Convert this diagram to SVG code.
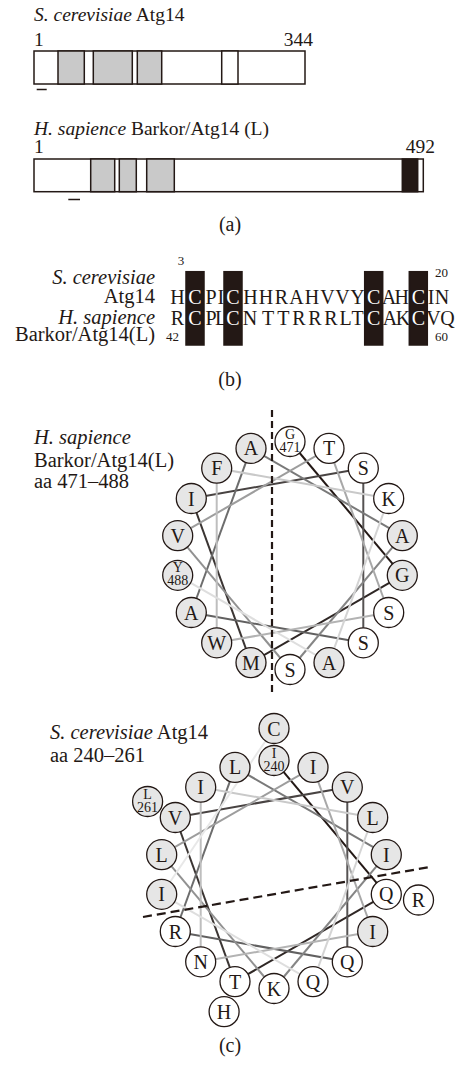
<svg xmlns="http://www.w3.org/2000/svg" width="458" height="1065" viewBox="0 0 458 1065">
<style>
text{font-family:"Liberation Serif","Times New Roman",serif;fill:#231815}
.it{font-style:italic}
.lab{font-size:19.5px}
.labb{font-size:20.5px}
.seq{font-size:20px;text-anchor:middle}
.wl{fill:#ffffff}
.num{font-size:13px}
.box{fill:#ffffff;stroke:#231815;stroke-width:1.5}
.dom{fill:#c9c9c9;stroke:#231815;stroke-width:1.5}
.blk{fill:#231815;stroke:#231815;stroke-width:1.5}
.tick{stroke:#231815;stroke-width:1.5}
.hp circle{fill:#e6e6e6;stroke:#231815;stroke-width:1.3}
.hw circle{fill:#ffffff;stroke:#231815;stroke-width:1.3}
.res{font-size:20px;text-anchor:middle}
.rn{font-size:14px;text-anchor:middle}
.conn line{stroke-width:2;fill:none}
.dash{stroke:#231815;stroke-width:2.2;fill:none}
.cap{font-size:20px;text-anchor:middle}
</style>

<!-- (a) -->
<g id="a-scer">
<text class="lab" x="34" y="21"><tspan class="it">S. cerevisiae</tspan> Atg14</text>
<text class="lab" x="34" y="46">1</text>
<text class="lab" x="313" y="46" text-anchor="end">344</text>
<rect class="box" x="34" y="51" width="271" height="33"/>
<rect class="dom" x="58" y="51" width="26.3" height="33"/>
<rect class="dom" x="93.3" y="51" width="39" height="33"/>
<rect class="dom" x="137.3" y="51" width="24.4" height="33"/>
<rect class="box" x="221.7" y="51" width="16.3" height="33"/>
<line class="tick" x1="36.7" y1="89.5" x2="46.7" y2="89.5"/>
</g>
<g id="a-hsap">
<text class="lab" x="34" y="135"><tspan class="it">H. sapience</tspan> Barkor/Atg14 (L)</text>
<text class="lab" x="34" y="153">1</text>
<text class="lab" x="435" y="153" text-anchor="end">492</text>
<rect class="box" x="34" y="159" width="389.3" height="32.7"/>
<rect class="dom" x="90.7" y="159" width="24" height="32.7"/>
<rect class="dom" x="119.3" y="159" width="17" height="32.7"/>
<rect class="dom" x="146.7" y="159" width="27.6" height="32.7"/>
<rect class="blk" x="402.3" y="159" width="15.4" height="32.7"/>
<line class="tick" x1="68.3" y1="199.5" x2="80" y2="199.5"/>
</g>
<text class="cap" x="230" y="231">(a)</text>

<!-- (b) -->
<g id="b-align">
<rect class="blk" x="186" y="271.7" width="18" height="73.3"/>
<rect class="blk" x="224" y="271.7" width="18" height="73.3"/>
<rect class="blk" x="364.7" y="271.7" width="18" height="73.3"/>
<rect class="blk" x="409.3" y="271.7" width="18" height="73.3"/>
<text class="num" x="181" y="265" text-anchor="middle">3</text>
<text class="num" x="448" y="277" text-anchor="end">20</text>
<text class="labb it" x="155" y="284" text-anchor="end">S. cerevisiae</text>
<text class="labb" x="155" y="303" text-anchor="end">Atg14</text>
<text class="labb it" x="155" y="324" text-anchor="end">H. sapience</text>
<text class="labb" x="155" y="341" text-anchor="end">Barkor/Atg14(L)</text>
<text class="num" x="166" y="341">42</text>
<text class="num" x="448" y="341" text-anchor="end">60</text>
<g id="seq-scer">
<text class="seq" x="177.5" y="304">H</text>
<text class="seq wl" x="195" y="304">C</text>
<text class="seq" x="211" y="304">P</text>
<text class="seq" x="220.8" y="304">I</text>
<text class="seq wl" x="233" y="304">C</text>
<text class="seq" x="250.5" y="304">H</text>
<text class="seq" x="266" y="304">H</text>
<text class="seq" x="281.3" y="304">R</text>
<text class="seq" x="296.5" y="304">A</text>
<text class="seq" x="312" y="304">H</text>
<text class="seq" x="327.5" y="304">V</text>
<text class="seq" x="342.5" y="304">V</text>
<text class="seq" x="357.5" y="304">Y</text>
<text class="seq wl" x="373.7" y="304">C</text>
<text class="seq" x="389" y="304">A</text>
<text class="seq" x="401.7" y="304">H</text>
<text class="seq wl" x="418.3" y="304">C</text>
<text class="seq" x="431" y="304">I</text>
<text class="seq" x="442" y="304">N</text>
</g>
<g id="seq-hsap">
<text class="seq" x="177.5" y="325">R</text>
<text class="seq wl" x="195" y="325">C</text>
<text class="seq" x="211" y="325">P</text>
<text class="seq" x="221" y="325">L</text>
<text class="seq wl" x="233" y="325">C</text>
<text class="seq" x="250" y="325">N</text>
<text class="seq" x="268" y="325">T</text>
<text class="seq" x="283.3" y="325">T</text>
<text class="seq" x="299" y="325">R</text>
<text class="seq" x="315" y="325">R</text>
<text class="seq" x="331" y="325">R</text>
<text class="seq" x="345.5" y="325">L</text>
<text class="seq" x="357.5" y="325">T</text>
<text class="seq wl" x="373.7" y="325">C</text>
<text class="seq" x="390" y="325">A</text>
<text class="seq" x="403" y="325">K</text>
<text class="seq wl" x="418.3" y="325">C</text>
<text class="seq" x="433.5" y="325">V</text>
<text class="seq" x="447.5" y="325">Q</text>
</g>
</g>
<text class="cap" x="230" y="386">(b)</text>

<!-- (c) helix 1 -->
<text class="labb it" x="34" y="444">H. sapience</text>
<text class="labb" x="34" y="467">Barkor/Atg14(L)</text>
<text class="labb" x="34" y="488">aa 471–488</text>

<g id="connectors-h1" class="conn">
<line x1="290" y1="441.5" x2="402.3" y2="575.3" stroke="#231815"/>
<line x1="402.3" y1="575.3" x2="251" y2="662.6" stroke="#2f2725"/>
<line x1="251" y1="662.6" x2="191.3" y2="498.5" stroke="#3b3533"/>
<line x1="191.3" y1="498.5" x2="363.3" y2="468.2" stroke="#484342"/>
<line x1="363.3" y1="468.2" x2="363.3" y2="642.8" stroke="#555252"/>
<line x1="363.3" y1="642.8" x2="191.3" y2="612.5" stroke="#616060"/>
<line x1="191.3" y1="612.5" x2="251" y2="448.4" stroke="#6d6d6d"/>
<line x1="251" y1="448.4" x2="402.3" y2="535.7" stroke="#797979"/>
<line x1="402.3" y1="535.7" x2="290" y2="669.5" stroke="#858585"/>
<line x1="290" y1="669.5" x2="177.7" y2="535.7" stroke="#919191"/>
<line x1="177.7" y1="535.7" x2="329" y2="448.4" stroke="#9d9d9d"/>
<line x1="329" y1="448.4" x2="388.7" y2="612.5" stroke="#a8a8a8"/>
<line x1="388.7" y1="612.5" x2="216.7" y2="642.8" stroke="#b3b3b3"/>
<line x1="216.7" y1="642.8" x2="216.7" y2="468.2" stroke="#bebebe"/>
<line x1="216.7" y1="468.2" x2="388.7" y2="498.5" stroke="#c9c9c9"/>
<line x1="388.7" y1="498.5" x2="329" y2="662.6" stroke="#d4d4d4"/>
<line x1="329" y1="662.6" x2="177.7" y2="575.3" stroke="#dedede"/>
</g>
<line class="dash" x1="272" y1="410" x2="272" y2="695" stroke-dasharray="7 4"/>

<g id="h1-G471" class="hw"><circle cx="290" cy="441.5" r="15"/><text class="rn" x="290" y="438.5">G</text><text class="rn" x="290" y="451.5">471</text></g>
<g id="h1-T" class="hw"><circle cx="329" cy="448.4" r="15"/><text class="res" x="329" y="455.4">T</text></g>
<g id="h1-S40" class="hw"><circle cx="363.3" cy="468.2" r="15"/><text class="res" x="363.3" y="475.2">S</text></g>
<g id="h1-K" class="hw"><circle cx="388.7" cy="498.5" r="15"/><text class="res" x="388.7" y="505.5">K</text></g>
<g id="h1-A80" class="hp"><circle cx="402.3" cy="535.7" r="15"/><text class="res" x="402.3" y="542.7">A</text></g>
<g id="h1-G100" class="hp"><circle cx="402.3" cy="575.3" r="15"/><text class="res" x="402.3" y="582.3">G</text></g>
<g id="h1-S120" class="hw"><circle cx="388.7" cy="612.5" r="15"/><text class="res" x="388.7" y="619.5">S</text></g>
<g id="h1-S140" class="hw"><circle cx="363.3" cy="642.8" r="15"/><text class="res" x="363.3" y="649.8">S</text></g>
<g id="h1-A160" class="hp"><circle cx="329" cy="662.6" r="15"/><text class="res" x="329" y="669.6">A</text></g>
<g id="h1-S180" class="hw"><circle cx="290" cy="669.5" r="15"/><text class="res" x="290" y="676.5">S</text></g>
<g id="h1-M" class="hp"><circle cx="251" cy="662.6" r="15"/><text class="res" x="251" y="669.6">M</text></g>
<g id="h1-W" class="hp"><circle cx="216.7" cy="642.8" r="15"/><text class="res" x="216.7" y="649.8">W</text></g>
<g id="h1-A240" class="hp"><circle cx="191.3" cy="612.5" r="15"/><text class="res" x="191.3" y="619.5">A</text></g>
<g id="h1-Y488" class="hp"><circle cx="177.7" cy="575.3" r="15"/><text class="rn" x="177.7" y="572.3">Y</text><text class="rn" x="177.7" y="585.3">488</text></g>
<g id="h1-V" class="hp"><circle cx="177.7" cy="535.7" r="15"/><text class="res" x="177.7" y="542.7">V</text></g>
<g id="h1-I" class="hp"><circle cx="191.3" cy="498.5" r="15"/><text class="res" x="191.3" y="505.5">I</text></g>
<g id="h1-F" class="hp"><circle cx="216.7" cy="468.2" r="15"/><text class="res" x="216.7" y="475.2">F</text></g>
<g id="h1-A340" class="hp"><circle cx="251" cy="448.4" r="15"/><text class="res" x="251" y="455.4">A</text></g>

<!-- (c) helix 2 -->
<text class="labb" x="50" y="739"><tspan class="it">S. cerevisiae</tspan> Atg14</text>
<text class="labb" x="50" y="762">aa 240–261</text>

<g id="connectors-h2" class="conn">
<line x1="274" y1="760.5" x2="386.3" y2="894.3" stroke="#231815"/>
<line x1="386.3" y1="894.3" x2="235" y2="981.6" stroke="#2f2725"/>
<line x1="235" y1="981.6" x2="175.3" y2="817.5" stroke="#3b3533"/>
<line x1="175.3" y1="817.5" x2="347.3" y2="787.2" stroke="#484342"/>
<line x1="347.3" y1="787.2" x2="347.3" y2="961.8" stroke="#555252"/>
<line x1="347.3" y1="961.8" x2="175.3" y2="931.5" stroke="#616060"/>
<line x1="175.3" y1="931.5" x2="235" y2="767.4" stroke="#6d6d6d"/>
<line x1="235" y1="767.4" x2="386.3" y2="854.7" stroke="#797979"/>
<line x1="386.3" y1="854.7" x2="274" y2="988.5" stroke="#858585"/>
<line x1="274" y1="988.5" x2="161.7" y2="854.7" stroke="#919191"/>
<line x1="161.7" y1="854.7" x2="313" y2="767.4" stroke="#9d9d9d"/>
<line x1="313" y1="767.4" x2="372.7" y2="931.5" stroke="#a8a8a8"/>
<line x1="372.7" y1="931.5" x2="200.7" y2="961.8" stroke="#b3b3b3"/>
<line x1="200.7" y1="961.8" x2="200.7" y2="787.2" stroke="#bebebe"/>
<line x1="200.7" y1="787.2" x2="372.7" y2="817.5" stroke="#c9c9c9"/>
<line x1="372.7" y1="817.5" x2="313" y2="981.6" stroke="#d4d4d4"/>
<line x1="313" y1="981.6" x2="161.7" y2="894.3" stroke="#dedede"/>
<line x1="161.7" y1="894.3" x2="274" y2="728.5" stroke="#e8e8e8"/>
</g>
<line class="dash" x1="143" y1="917" x2="430" y2="867" stroke-dasharray="9 5"/>

<g id="h2-C" class="hp"><circle cx="274" cy="728.5" r="15"/><text class="res" x="274" y="735.5">C</text></g>
<g id="h2-I240" class="hp"><circle cx="274" cy="760.5" r="15"/><text class="rn" x="274" y="757.5">I</text><text class="rn" x="274" y="770.5">240</text></g>
<g id="h2-I20" class="hp"><circle cx="313" cy="767.4" r="15"/><text class="res" x="313" y="774.4">I</text></g>
<g id="h2-V40" class="hp"><circle cx="347.3" cy="787.2" r="15"/><text class="res" x="347.3" y="794.2">V</text></g>
<g id="h2-L60" class="hp"><circle cx="372.7" cy="817.5" r="15"/><text class="res" x="372.7" y="824.5">L</text></g>
<g id="h2-I80" class="hp"><circle cx="386.3" cy="854.7" r="15"/><text class="res" x="386.3" y="861.7">I</text></g>
<g id="h2-Q100" class="hw"><circle cx="386.3" cy="894.3" r="15"/><text class="res" x="386.3" y="901.3">Q</text></g>
<g id="h2-R" class="hw"><circle cx="418.5" cy="900" r="15"/><text class="res" x="418.5" y="907">R</text></g>
<g id="h2-I120" class="hp"><circle cx="372.7" cy="931.5" r="15"/><text class="res" x="372.7" y="938.5">I</text></g>
<g id="h2-Q140" class="hw"><circle cx="347.3" cy="961.8" r="15"/><text class="res" x="347.3" y="968.8">Q</text></g>
<g id="h2-Q160" class="hw"><circle cx="313" cy="981.6" r="15"/><text class="res" x="313" y="988.6">Q</text></g>
<g id="h2-K" class="hw"><circle cx="274" cy="988.5" r="15"/><text class="res" x="274" y="995.5">K</text></g>
<g id="h2-T" class="hw"><circle cx="235" cy="981.6" r="15"/><text class="res" x="235" y="988.6">T</text></g>
<g id="h2-H" class="hw"><circle cx="224.1" cy="1011.7" r="15"/><text class="res" x="224.1" y="1018.7">H</text></g>
<g id="h2-N" class="hw"><circle cx="200.7" cy="961.8" r="15"/><text class="res" x="200.7" y="968.8">N</text></g>
<g id="h2-R240" class="hw"><circle cx="175.3" cy="931.5" r="15"/><text class="res" x="175.3" y="938.5">R</text></g>
<g id="h2-I260" class="hp"><circle cx="161.7" cy="894.3" r="15"/><text class="res" x="161.7" y="901.3">I</text></g>
<g id="h2-L280" class="hp"><circle cx="161.7" cy="854.7" r="15"/><text class="res" x="161.7" y="861.7">L</text></g>
<g id="h2-V300" class="hp"><circle cx="175.3" cy="817.5" r="15"/><text class="res" x="175.3" y="824.5">V</text></g>
<g id="h2-L261" class="hp"><circle cx="147.6" cy="801.5" r="15"/><text class="rn" x="147.6" y="798.5">L</text><text class="rn" x="147.6" y="811.5">261</text></g>
<g id="h2-I320" class="hp"><circle cx="200.7" cy="787.2" r="15"/><text class="res" x="200.7" y="794.2">I</text></g>
<g id="h2-L340" class="hp"><circle cx="235" cy="767.4" r="15"/><text class="res" x="235" y="774.4">L</text></g>

<text class="cap" x="230" y="1052">(c)</text>
</svg>
